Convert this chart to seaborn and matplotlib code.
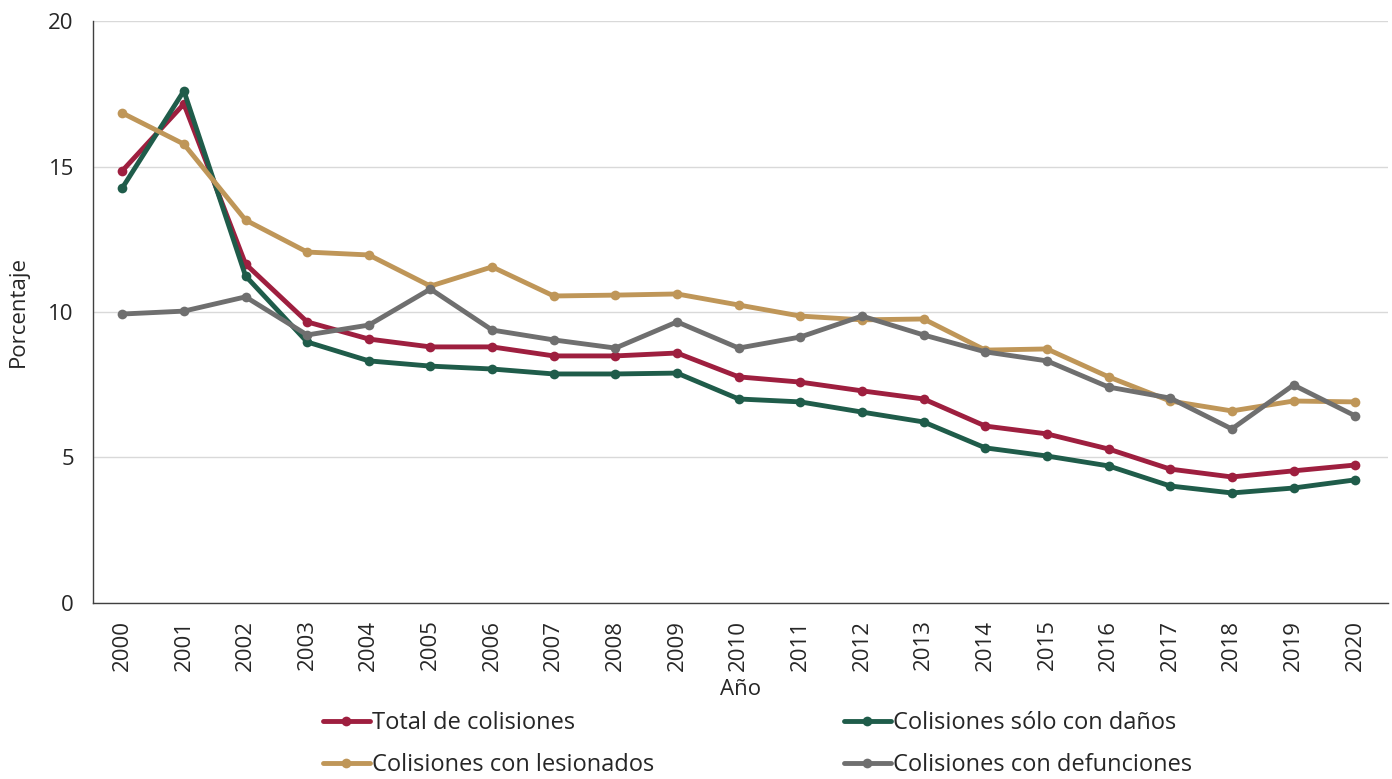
import numpy as np
import matplotlib
matplotlib.use("Agg")
import matplotlib.pyplot as plt
import seaborn as sns
import pandas as pd

# Datos (porcentaje)
anios = list(range(2000, 2021))
total = [14.85, 17.15, 11.65, 9.66, 9.07, 8.80, 8.80, 8.49, 8.49, 8.59, 7.77,
         7.59, 7.29, 7.01, 6.08, 5.81, 5.29, 4.60, 4.33, 4.54, 4.74]
solo_danos = [14.26, 17.60, 11.24, 8.97, 8.32, 8.14, 8.04, 7.87, 7.87, 7.90, 7.01,
              6.91, 6.56, 6.22, 5.33, 5.05, 4.71, 4.02, 3.78, 3.95, 4.23]
lesionados = [16.84, 15.77, 13.16, 12.06, 11.96, 10.89, 11.55, 10.55, 10.58, 10.62, 10.24,
              9.86, 9.73, 9.76, 8.69, 8.73, 7.77, 6.94, 6.60, 6.94, 6.91]
defunciones = [9.93, 10.03, 10.52, 9.21, 9.55, 10.79, 9.38, 9.04, 8.76, 9.66, 8.76,
               9.14, 9.86, 9.21, 8.63, 8.32, 7.42, 7.04, 5.98, 7.49, 6.43]

series = ["Total de colisiones", "Colisiones sólo con daños",
          "Colisiones con lesionados", "Colisiones con defunciones"]
colores = ["#9E1F3F", "#1F5C4A", "#BF9658", "#6F6F6F"]

df = pd.DataFrame({"Año": anios, series[0]: total, series[1]: solo_danos,
                   series[2]: lesionados, series[3]: defunciones})
df = df.melt(id_vars="Año", var_name="Serie", value_name="Porcentaje")

sns.set_style("white")
plt.rcParams['font.family'] = ['Open Sans', 'DejaVu Sans']

fig, ax = plt.subplots(figsize=(13.92, 7.79), dpi=100)
fig.subplots_adjust(left=0.067, right=0.997, top=0.973, bottom=0.226)

sns.lineplot(data=df, x="Año", y="Porcentaje", hue="Serie", hue_order=series,
             palette=colores, marker="o", markersize=7, markeredgewidth=0,
             linewidth=3.5, ax=ax, legend=True)

ax.set_ylim(0, 20)
ax.set_yticks([0, 5, 10, 15, 20])
ax.set_xlim(1999.53, 2020.53)
ax.set_xticks(anios)
ax.set_xticklabels([str(a) for a in anios], rotation=90, fontsize=16)
ax.tick_params(axis="y", labelsize=16, length=0, pad=14)
ax.tick_params(axis="x", length=0, pad=12)
ax.yaxis.grid(True, color="#D9D9D9", linewidth=1)
ax.set_axisbelow(True)
for s in ["top", "right"]:
    ax.spines[s].set_visible(False)
for s in ["left", "bottom"]:
    ax.spines[s].set_color("#404040")
    ax.spines[s].set_linewidth(1)

ax.set_xlabel("Año", fontsize=16, labelpad=6)
ax.set_ylabel("Porcentaje", fontsize=16, labelpad=14)

# Orden de la leyenda: filas (Total, Sólo daños) y (Lesionados, Defunciones)
handles, labels = ax.get_legend_handles_labels()
orden = [0, 2, 1, 3]
ax.legend([handles[i] for i in orden], [labels[i] for i in orden],
          loc="upper left", bbox_to_anchor=(0.17, -0.17), ncol=2, frameon=False,
          fontsize=17, handlelength=2.0, handletextpad=0.1, columnspacing=8.0,
          labelspacing=0.75, borderaxespad=0)

plt.savefig("out.png", dpi=100)
